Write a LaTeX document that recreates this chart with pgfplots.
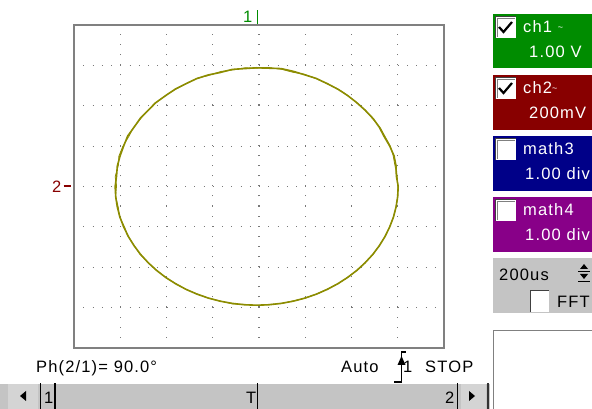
\documentclass[border=0pt]{standalone}
\usepackage{pgfplots}
\pgfplotsset{compat=1.18}
\usepackage{fontspec}
\setmainfont{Liberation Sans}[LetterSpace=7]
\definecolor{trace}{RGB}{140,140,0}
\definecolor{cgreen}{RGB}{0,140,0}
\definecolor{cred}{RGB}{136,0,0}
\definecolor{cblue}{RGB}{0,0,136}
\definecolor{cpurple}{RGB}{136,0,136}
\definecolor{panel}{RGB}{196,196,196}
\definecolor{btn}{RGB}{212,212,212}
\definecolor{dots}{RGB}{120,120,120}
\begin{document}
\begin{tikzpicture}[x=1pt,y=1pt,font=\fontsize{16.5}{19}\selectfont]
\path[use as bounding box, fill=white] (0,0) rectangle (592,409);
\begin{axis}[at={(74pt,61pt)}, anchor=south west, scale only axis,
  width=370pt, height=323pt,
  xmin=-4, xmax=4, ymin=-4, ymax=4,
  xtick={-3,-2,-1,0,1,2,3}, ytick={-3,-2,-1,0,1,2,3},
  xticklabels={}, yticklabels={}, major tick length=0pt,
  grid=major,
  x grid style={dots, line width=1.1pt, dash pattern=on 1.1pt off 9pt},
  y grid style={dots, line width=1.1pt, dash pattern=on 1.1pt off 8.15pt},
  axis line style={draw=gray, line width=1.5pt},
]
\addplot[trace, line width=1.6pt] coordinates {
(3.01,0.00) (2.97,0.26) (2.963,0.510) (2.92,0.76) (2.825,1.005) (2.70,1.25)
(2.600,1.470) (2.47,1.68) (2.294,1.890) (2.10,2.09) (1.917,2.252) (1.72,2.40)
(1.480,2.546) (1.23,2.68) (0.997,2.763) (0.75,2.85) (0.48,2.92) (0.22,2.93)
(-0.05,2.94) (-0.32,2.92) (-0.58,2.90) (-0.85,2.82) (-1.097,2.763) (-1.35,2.67)
(-1.58,2.546) (-1.80,2.42) (-2.017,2.252) (-2.24,2.07) (-2.394,1.890) (-2.56,1.70)
(-2.700,1.470) (-2.84,1.25) (-2.925,1.005) (-3.00,0.77) (-3.063,0.510) (-3.08,0.26)
(-3.11,0.00) (-3.098,-0.256) (-3.063,-0.510) (-3.006,-0.761) (-2.925,-1.005) (-2.823,-1.242)
(-2.700,-1.470) (-2.557,-1.686) (-2.394,-1.890) (-2.214,-2.079) (-2.017,-2.252) (-1.805,-2.408)
(-1.58,-2.546) (-1.343,-2.665) (-1.097,-2.763) (-0.842,-2.840) (-0.581,-2.895) (-0.317,-2.929)
(-0.05,-2.94) (0.217,-2.929) (0.481,-2.895) (0.742,-2.840) (0.997,-2.763) (1.243,-2.665)
(1.48,-2.546) (1.705,-2.408) (1.917,-2.252) (2.114,-2.079) (2.294,-1.890) (2.457,-1.686)
(2.600,-1.470) (2.723,-1.242) (2.825,-1.005) (2.906,-0.761) (2.963,-0.510) (2.998,-0.256)
(3.01,0.00)};
\addplot[trace, line width=0.8pt] coordinates {
(3.00,0.00) (2.99,0.25) (2.94,0.52) (2.90,0.77) (2.84,1.00) (2.73,1.23)
(2.62,1.46) (2.44,1.70) (2.31,1.88) (2.13,2.06) (1.90,2.27) (1.70,2.42)
(1.50,2.53) (1.26,2.66) (0.98,2.78) (0.73,2.83) (0.50,2.90) (0.20,2.95)
(-0.05,2.93) (-0.30,2.94) (-0.60,2.88) (-0.82,2.85) (-1.12,2.74) (-1.32,2.69)
(-1.60,2.53) (-1.83,2.39) (-2.00,2.27) (-2.20,2.10) (-2.42,1.86) (-2.53,1.72)
(-2.72,1.45) (-2.80,1.27) (-2.95,0.98) (-3.03,0.75) (-3.04,0.53) (-3.11,0.24)
(-3.08,0.02) (-3.10,-0.24) (-3.04,-0.53) (-3.02,-0.74) (-2.90,-1.02) (-2.84,-1.22)
(-2.68,-1.49) (-2.58,-1.67) (-2.37,-1.91) (-2.23,-2.06) (-2.00,-2.27) (-1.82,-2.39)
(-1.56,-2.56) (-1.36,-2.65) (-1.08,-2.77) (-0.86,-2.83) (-0.56,-2.91) (-0.33,-2.92)
(-0.05,-2.95) (0.23,-2.92) (0.47,-2.90) (0.76,-2.83) (0.98,-2.77) (1.26,-2.66)
(1.46,-2.55) (1.72,-2.40) (1.90,-2.26) (2.13,-2.07) (2.28,-1.90) (2.47,-1.68)
(2.59,-1.48) (2.73,-1.23) (2.82,-1.01) (2.91,-0.75) (2.96,-0.52) (3.00,-0.25)
(3.00,0.00)};
\end{axis}
% channel markers
\node[anchor=base west, inner sep=0, text=cgreen] at (243,386) {1};
\draw[cgreen, line width=1.3pt] (257.5,384.5) -- (257.5,399);
\node[anchor=base west, inner sep=0, text=cred] at (52,216) {2};
\draw[cred, line width=1.3pt] (63.5,223) -- (71,223);
% right panel
\fill[cgreen] (493,341) rectangle (592,395);
\fill[cred] (493,279) rectangle (592,334);
\fill[cblue] (493,218) rectangle (592,273);
\fill[cpurple] (493,157) rectangle (592,212);
\fill[panel] (493,96) rectangle (592,151);
\foreach \yb in {371,310,249,188}{
  \fill[white] (495,\yb) rectangle (516,\yb+22);
  \draw[black!75, line width=1.2pt] (495.6,\yb) -- (495.6,\yb+21.4) -- (516,\yb+21.4);
  \draw[gray, line width=0.8pt] (497,\yb+1) -- (497,\yb+20) -- (515,\yb+20);
}
\draw[black, line width=2.2pt] (499,382) -- (503.5,377) -- (512,387);
\draw[black, line width=2.2pt] (499,321) -- (503.5,316) -- (512,326);
\begin{scope}[text=white]
\node[anchor=base west, inner sep=0] at (523,376) {ch1 \raisebox{2pt}{\small\textasciitilde}};
\node[anchor=base west, inner sep=0] at (529,351) {1.00 V};
\node[anchor=base west, inner sep=0] at (523,315) {ch2\raisebox{2pt}{\small\textasciitilde}};
\node[anchor=base west, inner sep=0] at (529,290) {200mV};
\node[anchor=base west, inner sep=0] at (523,254) {math3};
\node[anchor=base west, inner sep=0] at (525,229) {1.00 div};
\node[anchor=base west, inner sep=0] at (523,193) {math4};
\node[anchor=base west, inner sep=0] at (525,168) {1.00 div};
\end{scope}
\node[anchor=base west, inner sep=0] at (499,128) {200us};
\fill[black] (584,145) -- (580,140) -- (588,140) -- cycle;
\draw[black, line width=1pt] (578,137) -- (590,137);
\fill[black] (584,130) -- (580,135) -- (588,135) -- cycle;
\draw[black, line width=1pt] (578,127.5) -- (590,127.5);
\fill[white] (530,97) rectangle (549,119);
\draw[black!75, line width=1.2pt] (530.6,97) -- (530.6,118.4) -- (549,118.4);
\node[anchor=base west, inner sep=0] at (557,101) {FFT};
\draw[gray, line width=1.2pt] (493.6,0) -- (493.6,78.6) -- (592,78.6);
% bottom status
\node[anchor=base west, inner sep=0] at (36,36) {Ph(2/1)= 90.0°};
\node[anchor=base west, inner sep=0] at (341,36) {Auto};
\draw[black, line width=1.2pt] (394,27) -- (401.5,27) -- (401.5,57) -- (406,57);
\fill[black] (401.5,53) -- (397.5,44) -- (405.5,44) -- cycle;
\node[anchor=base west, inner sep=0] at (403,36) {1};
\node[anchor=base west, inner sep=0] at (425,36) {STOP};
% scrollbar
\fill[panel] (0,0) rectangle (490,26);
\draw[white, line width=1.5pt] (0,25.3) -- (490,25.3);
\fill[btn] (8,0) rectangle (38,24.5);
\fill[black] (20,13) -- (26,18) -- (26,8) -- cycle;
\draw[black, line width=1.5pt] (40.5,0) -- (40.5,26);
\node[anchor=base west, inner sep=0] at (44,5) {1};
\draw[black, line width=1.5pt] (55,0) -- (55,26);
\node[anchor=base west, inner sep=0] at (246,5) {T};
\draw[black, line width=1.5pt] (257.5,0) -- (257.5,26);
\node[anchor=base west, inner sep=0] at (445,5) {2};
\draw[black, line width=1.5pt] (457.5,0) -- (457.5,26);
\fill[btn] (461,0) rectangle (486,24.5);
\fill[black] (475,13) -- (469,18) -- (469,8) -- cycle;
\draw[black!80, line width=1.5pt] (488,0) -- (488,26);
\end{tikzpicture}
\end{document}
